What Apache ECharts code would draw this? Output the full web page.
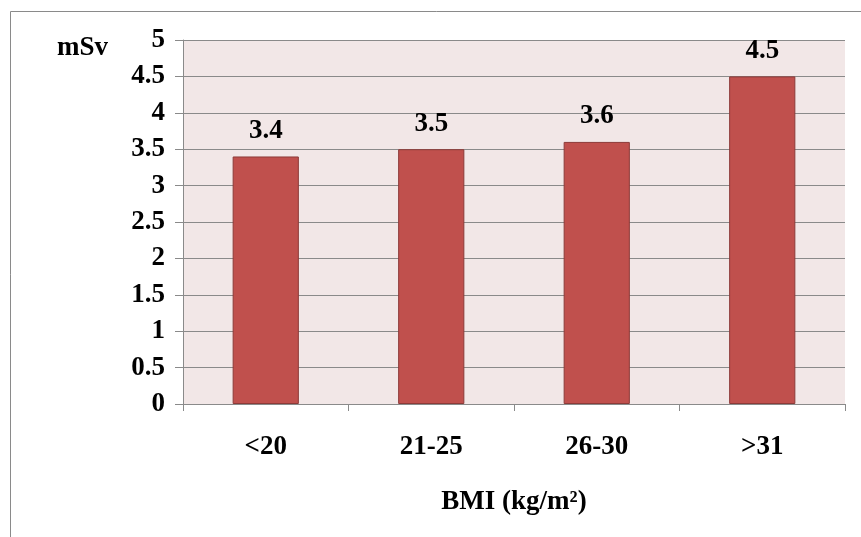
<!DOCTYPE html>
<html><head><meta charset="utf-8">
<script src="https://cdn.jsdelivr.net/npm/echarts@6/dist/echarts.min.js"></script>
<style>html,body{margin:0;padding:0;background:#fff}#c{width:861px;height:537px}</style>
</head><body><div id="c"></div>
<script>
const categories = ['<20', '21-25', '26-30', '>31'];
const values = [3.4, 3.5, 3.6, 4.5];
const yAxisTitle = 'mSv';
const xAxisTitle = 'BMI (kg/m²)';
const font = "'Liberation Serif', 'Times New Roman', serif";
const fs = 27;
const chart = echarts.init(document.getElementById('c'));
chart.setOption({
  animation: false,
  backgroundColor: '#fff',
  graphic: [
    { type: 'rect', shape: { x: 10.5, y: 11.5, width: 880, height: 560 }, style: { fill: 'none', stroke: '#8a8a8a', lineWidth: 1 } },
    { type: 'text', left: 57, top: 35, style: { text: yAxisTitle, font: 'bold ' + fs + 'px ' + font, fill: '#000' } }
  ],
  grid: { left: 183, top: 40, right: 16, bottom: 133, show: true, backgroundColor: '#F2E7E7', borderWidth: 0 },
  xAxis: {
    type: 'category', data: categories,
    axisLine: { lineStyle: { color: '#8a8a8a', width: 1 } },
    axisTick: { show: true, length: 7, alignWithLabel: false, lineStyle: { color: '#8a8a8a' } },
    axisLabel: { margin: 30, fontFamily: font, fontWeight: 'bold', fontSize: fs, color: '#000' },
    name: xAxisTitle, nameLocation: 'middle', nameGap: 85,
    nameTextStyle: { fontFamily: font, fontWeight: 'bold', fontSize: fs, color: '#000' }
  },
  yAxis: {
    type: 'value', min: 0, max: 5, interval: 0.5,
    axisLine: { show: true, lineStyle: { color: '#8a8a8a', width: 1 } },
    axisTick: { show: true, length: 8, lineStyle: { color: '#8a8a8a' } },
    axisLabel: { margin: 18, fontFamily: font, fontWeight: 'bold', fontSize: fs, color: '#000' },
    splitLine: { show: true, lineStyle: { color: '#8a8a8a', width: 1 } }
  },
  series: [{
    type: 'bar', data: values, barCategoryGap: '60%',
    itemStyle: { color: '#C0504D', borderColor: '#8C3A38', borderWidth: 1 },
    label: { show: true, position: 'top', distance: 12, fontFamily: font, fontWeight: 'bold', fontSize: fs, color: '#000' }
  }]
});
</script></body></html>
